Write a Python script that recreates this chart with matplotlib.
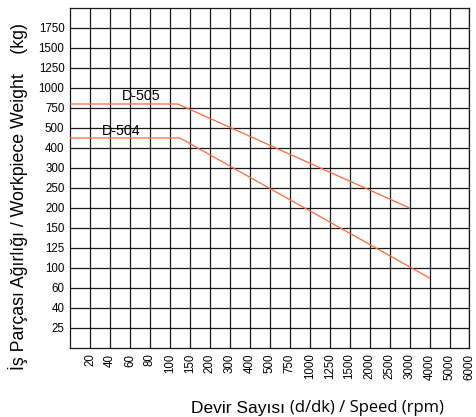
import numpy as np
import matplotlib
matplotlib.use("Agg")
import matplotlib.pyplot as plt

# speed (rpm) and weight (kg) values printed on the chart grid
speed_ticks = [20, 40, 60, 80, 100, 150, 200, 300, 400, 500, 750,
               1000, 1250, 1500, 2000, 2500, 3000, 4000, 5000, 6000]
weight_ticks = [25, 40, 60, 100, 125, 150, 200, 250, 300, 400, 500,
                750, 1000, 1250, 1500, 1750]

# load curves: flat up to the corner speed, then falling off
d505_rpm = [0, 120, 3000]
d505_kg = [800, 800, 200]
d504_rpm = [0, 125, 4000]
d504_kg = [450, 450, 80]

# every printed value sits one grid cell apart, so map values to cell index
xv = np.array([0] + speed_ticks, dtype=float)
xi = np.arange(len(xv), dtype=float)
yv = np.array([10] + weight_ticks + [2000], dtype=float)
yi = np.arange(len(yv), dtype=float)

def fx(v):
    return np.interp(v, xv, xi)

def fx_inv(i):
    return np.interp(i, xi, xv)

def fy(v):
    return np.interp(v, yv, yi)

def fy_inv(i):
    return np.interp(i, yi, yv)

plt.rcParams['font.family'] = ['Liberation Sans', 'DejaVu Sans']

fig = plt.figure(figsize=(4.77, 4.17), dpi=100)
ax = fig.add_axes([70 / 477, 69 / 417, 399.5 / 477, 340 / 417])

ax.set_xscale('function', functions=(fx, fx_inv))
ax.set_yscale('function', functions=(fy, fy_inv))
ax.set_xlim(0, 6000)
ax.set_ylim(10, 2000)

ax.set_xticks(speed_ticks)
ax.set_xticklabels([str(v) for v in speed_ticks], rotation=90, fontsize=8.3)
ax.set_yticks(weight_ticks)
ax.set_yticklabels([str(v) for v in weight_ticks], fontsize=8.3)
ax.minorticks_off()
ax.tick_params(length=0, pad=4)

ax.grid(True, color='#1a1a1a', linewidth=0.9)
for s in ax.spines.values():
    s.set_color('#1a1a1a')
    s.set_linewidth(0.9)

line_col = '#fa6a3f'
ax.plot(d505_rpm, d505_kg, color=line_col, lw=0.9, zorder=3)
ax.plot(d504_rpm, d504_kg, color=line_col, lw=0.9, zorder=3)

ax.text(71, 900, "D-505", fontsize=10.3, ha='center', va='center')
ax.text(51.6, 485, "D-504", fontsize=10.3, ha='center', va='center')

fig.text(18 / 477, 1 - 196 / 417,
         "İş Parçası Ağırlığı / Workpiece Weight    (kg)",
         rotation=90, ha='center', va='center', fontsize=12.8)

t1 = fig.text(191 / 477, 1 - 413 / 417, "Devir Sayısı ", fontsize=12.5,
              ha='left', va='baseline')
ax.annotate("(d/dk) / Speed (rpm)", xy=(1, 0), xycoords=t1,
            ha='left', va='bottom', fontsize=12, family='Open Sans',
            annotation_clip=False)

fig.savefig("out.png", dpi=100)
